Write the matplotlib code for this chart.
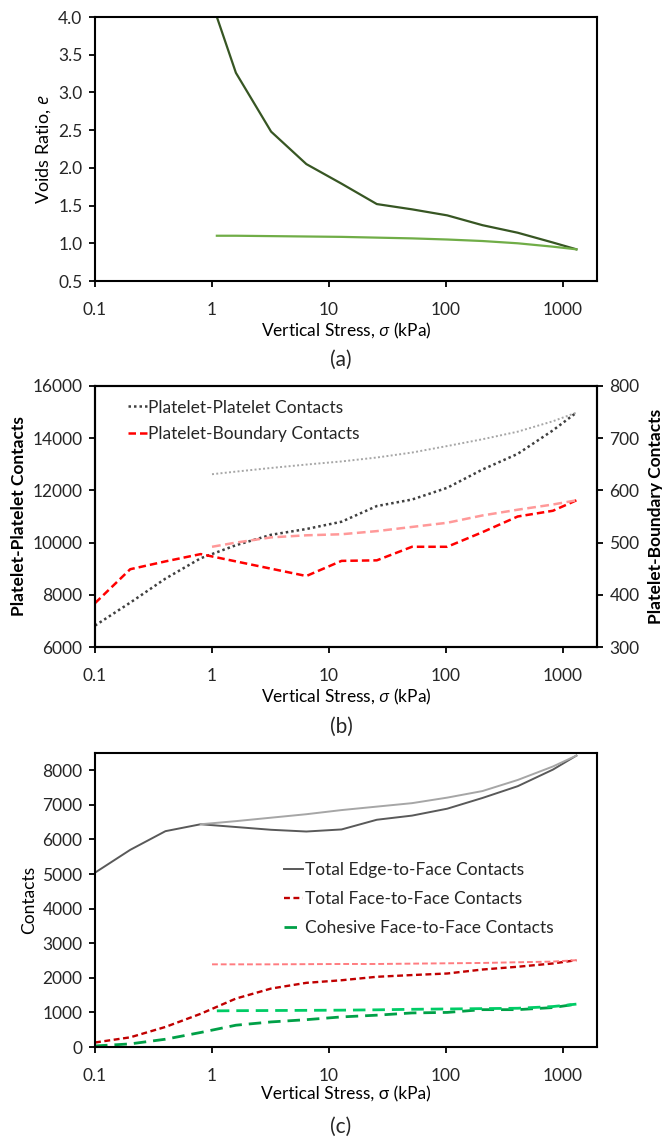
import numpy as np
import matplotlib.pyplot as plt
from matplotlib.ticker import FixedLocator, NullLocator

plt.rcParams['font.family'] = ['Lato', 'DejaVu Sans']
plt.rcParams['mathtext.fontset'] = 'custom'
plt.rcParams['mathtext.it'] = 'Open Sans:italic'
plt.rcParams['mathtext.rm'] = 'Lato'
plt.rcParams['text.color'] = '#262626'

# stress steps (kPa), doubling from 0.1 up to the peak load
sigma_load = [0.1, 0.2, 0.4, 0.8, 1.6, 3.2, 6.4, 12.8, 25.6, 51.2, 102.4, 204.8, 409.6, 819.2, 1300]
sigma_unload = [1.0, 1.6, 3.2, 6.4, 12.8, 25.6, 51.2, 102.4, 204.8, 409.6, 819.2, 1300]
sigma_unload_late = [1.1, 1.6, 3.2, 6.4, 12.8, 25.6, 51.2, 102.4, 204.8, 409.6, 819.2, 1300]
sigma_unload_edge = [0.8, 1.6, 3.2, 6.4, 12.8, 25.6, 51.2, 102.4, 204.8, 409.6, 819.2, 1300]

# (a) voids ratio
e_load_sigma = sigma_load[3:]
e_load = [4.63, 3.26, 2.48, 2.05, 1.79, 1.52, 1.45, 1.37, 1.24, 1.14, 1.01, 0.92]
e_unload = [1.10, 1.10, 1.095, 1.09, 1.085, 1.075, 1.065, 1.05, 1.03, 1.0, 0.955, 0.92]

# (b) contact counts
pp_load = [6820, 7700, 8620, 9400, 9900, 10300, 10520, 10800, 11400, 11650, 12100, 12800, 13400, 14300, 14980]
pp_unload = [12620, 12720, 12860, 12990, 13110, 13260, 13450, 13700, 13960, 14250, 14650, 14980]
pb_load = [384, 449, 464, 478, 464, 450, 436, 465, 466, 492, 492, 520, 550, 561, 581]
pb_unload = [492, 500, 510, 514, 516, 522, 530, 538, 552, 563, 573, 581]

# (c) contact types
ef_load = [5040, 5700, 6240, 6440, 6360, 6280, 6230, 6290, 6570, 6690, 6890, 7200, 7540, 8020, 8425]
ef_unload = [6440, 6530, 6630, 6730, 6850, 6950, 7050, 7210, 7400, 7720, 8110, 8425]
ff_load = [130, 280, 580, 960, 1400, 1690, 1855, 1930, 2030, 2080, 2125, 2240, 2320, 2415, 2510]
ff_unload = [2390, 2390, 2390, 2395, 2400, 2400, 2410, 2420, 2430, 2450, 2470, 2510]
coh_load = [30, 90, 225, 420, 630, 725, 790, 870, 920, 985, 1000, 1080, 1080, 1140, 1240]
coh_unload = [1045, 1050, 1055, 1060, 1065, 1075, 1090, 1100, 1110, 1120, 1170, 1240]

xticks = [0.1, 1, 10, 100, 1000]
xticklabels = ['0.1', '1', '10', '100', '1000']

W, H = 662, 1140
fig = plt.figure(figsize=(W / 100, H / 100), dpi=100)


def make_axes(left, top, right, bottom):
    return fig.add_axes([left / W, 1 - bottom / H, (right - left) / W, (bottom - top) / H])


def style_axes(ax):
    ax.set_xscale('log')
    ax.set_xlim(0.1, 1950)
    ax.xaxis.set_major_locator(FixedLocator(xticks))
    ax.set_xticklabels(xticklabels)
    ax.xaxis.set_minor_locator(NullLocator())
    for s in ax.spines.values():
        s.set_linewidth(1.5)
        s.set_color('black')
    ax.tick_params(axis='both', direction='out', length=4, width=1.3, labelsize=12.5,
                   labelcolor='#262626', pad=5)
    ax.tick_params(axis='x', pad=11)


# ---- (a)
ax1 = make_axes(95, 17, 597, 281)
style_axes(ax1)
ax1.plot(e_load_sigma, e_load, color='#375623', lw=1.6)
ax1.plot(sigma_unload_late, e_unload, color='#70AD47', lw=1.6)
ax1.set_ylim(0.5, 4.0)
ax1.set_yticks(np.arange(0.5, 4.01, 0.5))
ax1.set_yticklabels(['%.1f' % v for v in np.arange(0.5, 4.01, 0.5)])
ax1.set_ylabel('Voids Ratio, $e$', fontsize=13, labelpad=4)
ax1.set_xlabel(r'Vertical Stress, $\sigma$ (kPa)', fontsize=12.5, labelpad=2)
fig.text(341 / W, 1 - 360 / H, '(a)', ha='center', va='center', fontsize=15)

# ---- (b)
ax2 = make_axes(95, 386, 597, 647)
style_axes(ax2)
ax2r = ax2.twinx()
for s in ax2r.spines.values():
    s.set_linewidth(1.5)
ax2r.tick_params(axis='y', direction='out', length=4, width=1.3, labelsize=12.5,
                 labelcolor='#262626', pad=5)
l1, = ax2.plot(sigma_load, pp_load, color='#404040', lw=1.8, ls=(0, (1, 1.2)))
ax2.plot(sigma_unload, pp_unload, color='#A6A6A6', lw=1.4, ls=(0, (1, 1.2)))
l2, = ax2r.plot(sigma_load, pb_load, color='#FF0000', lw=1.8, ls=(0, (3, 1.6)))
ax2r.plot(sigma_unload, pb_unload, color='#FF9999', lw=1.8, ls=(0, (3.5, 1.8)))
ax2.set_ylim(6000, 16000)
ax2.set_yticks(range(6000, 16001, 2000))
ax2r.set_ylim(300, 800)
ax2r.set_yticks(range(300, 801, 100))
ax2.set_ylabel('Platelet-Platelet Contacts', fontsize=12.5, fontweight='bold', labelpad=4)
ax2r.set_ylabel('Platelet-Boundary Contacts', fontsize=12.5, fontweight='bold', labelpad=6)
ax2.set_xlabel(r'Vertical Stress, $\sigma$ (kPa)', fontsize=12.5, labelpad=2)
ax2.legend([l1, l2], ['Platelet-Platelet Contacts', 'Platelet-Boundary Contacts'],
           loc='upper left', bbox_to_anchor=(0.065, 0.948), frameon=False,
           fontsize=12.5, handlelength=1.1, handletextpad=0.1, labelspacing=0.6,
           borderpad=0, borderaxespad=0)
fig.text(341 / W, 1 - 727 / H, '(b)', ha='center', va='center', fontsize=15)

# ---- (c)
ax3 = make_axes(95, 753, 597, 1047)
style_axes(ax3)
m1, = ax3.plot(sigma_load, ef_load, color='#595959', lw=1.4)
ax3.plot(sigma_unload_edge, ef_unload, color='#A6A6A6', lw=1.4)
m2, = ax3.plot(sigma_load, ff_load, color='#C00000', lw=1.7, ls=(0, (2.5, 1.5)))
ax3.plot(sigma_unload, ff_unload, color='#FF7C80', lw=1.4, ls=(0, (3, 1.5)))
m3, = ax3.plot(sigma_load, coh_load, color='#00A047', lw=2.0, ls=(0, (4.5, 2.5)))
ax3.plot(sigma_unload_late, coh_unload, color='#00CC66', lw=2.0, ls=(0, (4.5, 2.5)))
ax3.set_ylim(0, 8500)
ax3.set_yticks(range(0, 8001, 1000))
ax3.set_ylabel('Contacts', fontsize=12.5, labelpad=4)
ax3.set_xlabel('Vertical Stress, σ (kPa)', fontsize=12.5, labelpad=2)
ax3.legend([m1, m2, m3], ['Total Edge-to-Face Contacts', 'Total Face-to-Face Contacts',
                          'Cohesive Face-to-Face Contacts'],
           loc='upper left', bbox_to_anchor=(0.376, 0.628), frameon=False,
           fontsize=12.5, handlelength=1.1, handletextpad=0.1, labelspacing=0.75,
           borderpad=0, borderaxespad=0)
fig.text(341 / W, 1 - 1127 / H, '(c)', ha='center', va='center', fontsize=15)

fig.savefig('out.png', dpi=100)
